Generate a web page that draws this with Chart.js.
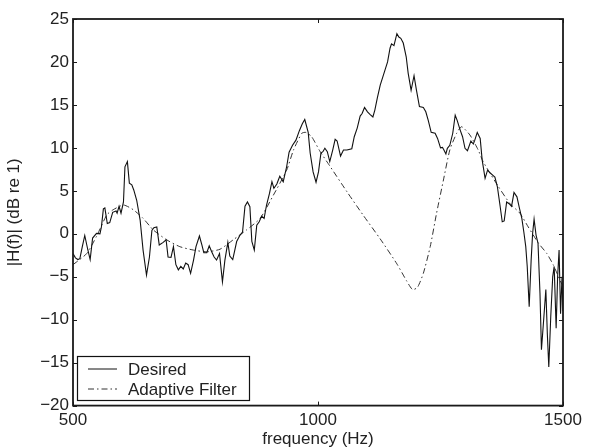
<!DOCTYPE html>
<html>
<head>
<meta charset="utf-8">
<script src="https://cdn.jsdelivr.net/npm/chart.js@4/dist/chart.umd.min.js"></script>
<style>
html,body{margin:0;padding:0;background:#fff;}
#wrap{width:593px;height:447px;position:relative;}
</style>
</head>
<body>
<div id="wrap"><canvas id="c" width="593" height="447"></canvas></div>
<script>
const desiredFreq = [500,505,510,514,519,524,530,535,540,548,555,558,562,565,570,575,581,588,590,594,598,603,606,611,615,620,624,630,637,643,650,656,661,665,671,676,684,690,694,700,705,710,715,720,725,730,735,740,746,751,758,763,767,773,778,783,788,793,799,805,810,816,820,826,834,841,846,851,856,861,865,870,875,880,885,890,895,901,906,910,916,922,929,936,941,948,955,962,968,973,980,984,990,996,1001,1006,1010,1014,1019,1024,1030,1035,1039,1046,1052,1059,1069,1074,1080,1086,1090,1095,1101,1106,1112,1116,1121,1127,1132,1137,1142,1147,1150,1155,1161,1165,1169,1174,1180,1184,1190,1196,1201,1207,1215,1220,1225,1231,1239,1244,1250,1254,1257,1261,1264,1269,1275,1280,1284,1290,1295,1300,1305,1312,1317,1320,1325,1331,1335,1341,1346,1351,1357,1361,1366,1371,1376,1380,1385,1390,1395,1400,1406,1411,1416,1420,1424,1427,1431,1435,1438,1441,1445,1449,1453,1456,1461,1465,1468,1471,1475,1479,1482,1486,1489,1492,1495,1498,1500];
const desiredDb = [-2.3,-2.8,-3.0,-2.9,-1.5,-0.2,-1.8,-3.0,-0.5,0.05,0,0.8,2.9,3.0,1.2,1.3,2.5,2.65,2.4,3.2,2.4,3.7,7.8,8.4,5.9,5.7,5.1,3.9,1.6,-1.9,-4.8,-2.7,0.4,0.7,0.8,-1.3,-1.0,-0.7,-2.7,-2.75,-1.5,-3.6,-4.2,-3.8,-4.1,-3.4,-3.6,-4.6,-3.06,-1.5,-0.26,-1.3,-2.2,-2.2,-1.4,-2.1,-2.7,-3.06,-2.3,-5.6,-3.06,-1.0,-2.6,-3.0,-0.9,-0.15,0.2,3.2,3.7,3.15,-0.9,-1.9,1.0,1.4,2.06,1.8,3.35,4.7,6.06,5.3,5.8,6.7,6.06,7.8,9.5,10.3,10.9,12.0,12.8,13.3,11.8,9.4,7.2,6.0,7.2,9.4,9.55,9.95,9.55,8.4,9.75,11.0,10.8,9.05,9.75,9.75,9.9,11.3,12.3,13.7,14.0,14.7,14.2,13.9,13.6,14.4,15.8,17.3,18.2,19.1,20.0,21.6,22.1,21.9,23.3,22.9,22.75,22.2,20.6,18.7,16.7,18.4,16.7,14.8,14.7,14.2,13.2,11.8,11.7,11.1,10.0,10.06,9.75,9.3,9.95,10.3,11.7,13.8,13.2,12.1,11.3,9.95,9.67,10.8,10.45,10.9,11.8,11.1,8.6,6.45,7.4,7.1,6.8,6.6,5.5,3.5,1.4,1.5,3.7,3.5,3.2,4.8,4.3,3.0,1.8,0.24,-1.5,-3.8,-8.5,-3.06,0.05,1.7,-0.15,-1.1,-6.9,-13.5,-9.65,-6.5,-11.6,-15.5,-9.65,-5.0,-3.8,-11.0,-5.0,-1.9,-9.3,-5.0,-9.0];

const adaptiveFreq = [500,528,548,569,582,603,623,643,664,691,718,746,773,800,827,854,882,909,936,950,967,975,987,1004,1024,1059,1093,1127,1161,1181,1193,1203,1215,1229,1242,1256,1269,1283,1293,1310,1327,1337,1368,1392,1412,1429,1450,1467,1480,1497,1500];
const adaptiveDb = [-3.6,-2.3,-0.3,2.2,2.8,3.35,2.8,1.8,0.44,-0.7,-1.5,-1.9,-2.1,-1.8,-0.7,0.44,1.8,4.5,7.4,9.75,11.7,11.8,11.3,9.6,7.9,4.9,2.1,-0.6,-3.5,-5.5,-6.5,-6.24,-4.6,-1.5,2.4,6.26,9.75,11.7,12.46,11.5,9.75,8.4,5.5,3.5,2.4,0.8,-1.1,-2.3,-3.6,-5.8,-6.0];

const xTicks = [500,1000,1500];
const yTicks = [-20,-15,-10,-5,0,5,10,15,20,25];
const seriesNames = ['Desired','Adaptive Filter'];
const xTitle = 'frequency (Hz)';
const yTitle = '|H(f)| (dB re 1)';

const FONT = 'Liberation Sans, Arial, Helvetica, sans-serif';
const DASH = [6,3,1.5,3];

const framePlugin = {
  id: 'frame',
  afterDraw(chart) {
    const ctx = chart.ctx;
    const a = chart.chartArea;
    const xs = chart.scales.x, ys = chart.scales.y;
    ctx.save();
    ctx.strokeStyle = '#1a1a1a';
    ctx.lineWidth = 1;
    const tl = 4;
    ctx.beginPath();
    xTicks.forEach(v => {
      const px = Math.round(xs.getPixelForValue(v)) + 0.5;
      ctx.moveTo(px, a.bottom); ctx.lineTo(px, a.bottom - tl);
      ctx.moveTo(px, a.top); ctx.lineTo(px, a.top + tl);
    });
    yTicks.forEach(v => {
      const py = Math.round(ys.getPixelForValue(v)) + 0.5;
      ctx.moveTo(a.left, py); ctx.lineTo(a.left + tl, py);
      ctx.moveTo(a.right, py); ctx.lineTo(a.right - tl, py);
    });
    ctx.stroke();
    ctx.lineWidth = 1.8;
    ctx.strokeRect(a.left, a.top, a.right - a.left, a.bottom - a.top);

    // legend
    const lx = 77.5, ly = 356.5, lw = 172, lh = 44;
    ctx.fillStyle = '#fff';
    ctx.fillRect(lx, ly, lw, lh);
    ctx.lineWidth = 1.2;
    ctx.strokeStyle = '#111';
    ctx.strokeRect(lx, ly, lw, lh);
    ctx.font = '17px ' + FONT;
    ctx.fillStyle = '#222';
    ctx.textBaseline = 'middle';
    ctx.textAlign = 'left';
    const rows = [369, 389];
    ctx.lineWidth = 1;
    ctx.beginPath(); ctx.moveTo(88, rows[0]); ctx.lineTo(117, rows[0]); ctx.stroke();
    ctx.setLineDash(DASH);
    ctx.strokeStyle = '#333';
    ctx.beginPath(); ctx.moveTo(88, rows[1]); ctx.lineTo(117, rows[1]); ctx.stroke();
    ctx.setLineDash([]);
    ctx.fillText(seriesNames[0], 128, rows[0] + 1);
    ctx.fillText(seriesNames[1], 128, rows[1] + 1);
    ctx.restore();
  }
};

const fmt = v => (v < 0 ? '\u2212' + Math.abs(v) : String(v));

new Chart(document.getElementById('c'), {
  type: 'line',
  data: {
    datasets: [
      {
        label: seriesNames[0],
        data: desiredFreq.map((f, i) => ({x: f, y: desiredDb[i]})),
        borderColor: '#111',
        borderWidth: 1.1,
        pointRadius: 0,
        tension: 0,
        fill: false
      },
      {
        label: seriesNames[1],
        data: adaptiveFreq.map((f, i) => ({x: f, y: adaptiveDb[i]})),
        borderColor: '#333',
        borderWidth: 1,
        borderDash: DASH,
        pointRadius: 0,
        tension: 0.2,
        fill: false
      }
    ]
  },
  options: {
    responsive: false,
    animation: false,
    devicePixelRatio: 1,
    layout: { padding: { left: 0, right: 30, top: 19, bottom: 0 } },
    plugins: { legend: { display: false }, tooltip: { enabled: false } },
    scales: {
      x: {
        type: 'linear',
        min: 500, max: 1500,
        afterBuildTicks: s => { s.ticks = xTicks.map(v => ({value: v})); },
        afterFit: s => { s.height = 41.4; },
        grid: { display: true, drawOnChartArea: false, drawTicks: false },
        border: { display: false },
        ticks: { autoSkip: false, maxRotation: 0, padding: 5, color: '#222', font: { family: FONT, size: 17 }, callback: v => fmt(v) },
        title: { display: true, text: xTitle, color: '#222', font: { family: FONT, size: 17, lineHeight: 1 }, padding: { top: 0, bottom: -1 } }
      },
      y: {
        type: 'linear',
        min: -20, max: 25,
        afterBuildTicks: s => { s.ticks = yTicks.map(v => ({value: v})); },
        afterFit: s => { s.width = 73; },
        grid: { display: true, drawOnChartArea: false, drawTicks: false },
        border: { display: false },
        ticks: { autoSkip: false, padding: 4, color: '#222', font: { family: FONT, size: 17 }, callback: v => fmt(v) },
        title: { display: true, text: yTitle, color: '#222', font: { family: FONT, size: 17, lineHeight: 1 }, padding: { top: 6, bottom: 6 } }
      }
    }
  },
  plugins: [framePlugin]
});
</script>
</body>
</html>
